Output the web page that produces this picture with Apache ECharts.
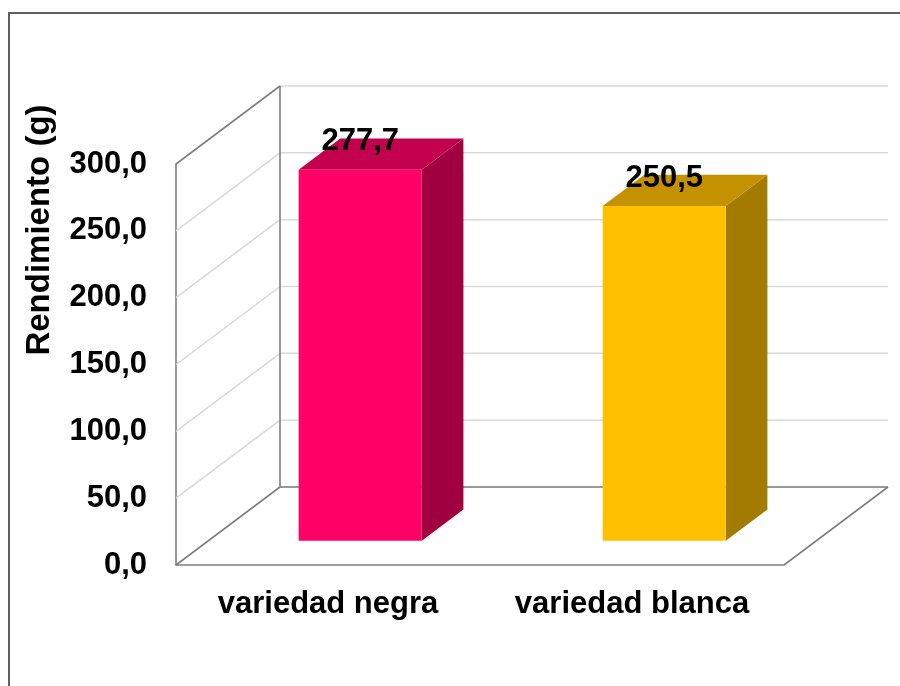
<!DOCTYPE html>
<html>
<head>
<meta charset="utf-8">
<script src="https://cdn.jsdelivr.net/npm/echarts@6/dist/echarts.min.js"></script>
<style>
  html, body { margin: 0; padding: 0; background: #fff; }
  #chart { width: 900px; height: 686px; }
</style>
</head>
<body>
<div id="chart"></div>
<script>
// Rendimiento por variedad (g)
const categories = ['variedad negra', 'variedad blanca'];
const rendimiento = [277.7, 250.5];
const yTicks = [0, 50, 100, 150, 200, 250, 300];
const yTitle = 'Rendimiento (g)';

const faceColors = ['#FF0066', '#FFC000'];
const topColors = ['#C2004E', '#C49200'];
const sideColors = ['#A0003F', '#A37B00'];

// Oblique projection of the plot box: screen offset of the full depth
const DEPTH_X = 104;
const DEPTH_Y = -78;
// Bars occupy this slice of the depth and this share of each band
const BAR_FRONT = 0.31;
const BAR_BACK = 0.71;
const BAR_WIDTH = 0.405;

const FONT = "'Liberation Sans', Arial, sans-serif";
const EDGE = { stroke: '#7f7f7f', lineWidth: 1.6, fill: null };
const GRID = { stroke: '#d9d9d9', lineWidth: 1.5, fill: null };

const fmt = v => v.toFixed(1).replace('.', ',');

function line(x1, y1, x2, y2, style) {
  return { type: 'line', shape: { x1, y1, x2, y2 }, style };
}

// Light gridlines on the side wall and the back wall
function renderGrid(params, api) {
  const cs = params.coordSys;
  const v = api.value(1);
  const y = api.coord([0, v])[1];
  const x0 = cs.x, x1 = cs.x + cs.width;
  const children = [
    line(x0 + DEPTH_X, y + DEPTH_Y, x1 + DEPTH_X, y + DEPTH_Y, GRID)
  ];
  if (v !== yTicks[0] && v !== yTicks[yTicks.length - 1]) {
    children.push(line(x0, y, x0 + DEPTH_X, y + DEPTH_Y, GRID));
  }
  return { type: 'group', children };
}

// Dark outline of the walls and the floor
function renderFrame(params, api) {
  const cs = params.coordSys;
  const x0 = cs.x, x1 = cs.x + cs.width;
  const yb = api.coord([0, yTicks[0]])[1];
  const yt = api.coord([0, yTicks[yTicks.length - 1]])[1];
  return {
    type: 'group',
    children: [
      line(x0, yt, x0 + DEPTH_X, yt + DEPTH_Y, EDGE),
      line(x0, yb, x0 + DEPTH_X, yb + DEPTH_Y, EDGE),
      line(x0 + DEPTH_X, yb + DEPTH_Y, x0 + DEPTH_X, yt + DEPTH_Y, EDGE),
      line(x0 + DEPTH_X, yb + DEPTH_Y, x1 + DEPTH_X, yb + DEPTH_Y, EDGE),
      line(x1, yb, x1 + DEPTH_X, yb + DEPTH_Y, EDGE)
    ]
  };
}

// Prism bars: front face, top face, right side and value label
function renderBar(params, api) {
  const i = api.value(0);
  const val = api.value(1);
  const base = api.coord([i, 0]);
  const top = api.coord([i, val]);
  const w = api.size([1, 0])[0] * BAR_WIDTH;
  const fx = BAR_FRONT * DEPTH_X, fy = BAR_FRONT * DEPTH_Y;
  const ddx = (BAR_BACK - BAR_FRONT) * DEPTH_X;
  const ddy = (BAR_BACK - BAR_FRONT) * DEPTH_Y;
  const l = base[0] - w / 2 + fx;
  const r = base[0] + w / 2 + fx;
  const yb = base[1] + fy;
  const yt = top[1] + fy;
  return {
    type: 'group',
    children: [
      { type: 'polygon', shape: { points: [[r, yb], [r + ddx, yb + ddy], [r + ddx, yt + ddy], [r, yt]] },
        style: { fill: sideColors[i] } },
      { type: 'polygon', shape: { points: [[l, yt], [r, yt], [r + ddx, yt + ddy], [l + ddx, yt + ddy]] },
        style: { fill: topColors[i] } },
      { type: 'rect', shape: { x: l, y: yt, width: r - l, height: yb - yt },
        style: { fill: faceColors[i] } },
      { type: 'text', x: (l + r) / 2, y: yt - 28,
        style: { text: fmt(val), fill: '#000', font: 'bold 31px ' + FONT,
                 align: 'center', verticalAlign: 'middle' } }
    ]
  };
}

const chart = echarts.init(document.getElementById('chart'), null, { renderer: 'canvas' });

chart.setOption({
  animation: false,
  backgroundColor: '#fff',
  graphic: [
    {
      type: 'rect',
      shape: { x: 9, y: 13, width: 960, height: 760 },
      style: { fill: null, stroke: '#5f5f5f', lineWidth: 2 },
      silent: true
    },
    {
      type: 'text',
      x: 40,
      y: 230,
      rotation: Math.PI / 2,
      style: { text: yTitle, fill: '#000', font: 'bold 33px ' + FONT,
               align: 'center', verticalAlign: 'middle' },
      silent: true
    }
  ],
  grid: { left: 176, right: 116, top: 164, bottom: 121, containLabel: false },
  xAxis: {
    type: 'category',
    data: categories,
    axisLine: { show: true, lineStyle: { color: '#7f7f7f', width: 1.6 } },
    axisTick: { show: false },
    splitLine: { show: false },
    axisLabel: { interval: 0, hideOverlap: false, fontFamily: FONT, fontSize: 31,
                 fontWeight: 'bold', color: '#000', margin: 24 }
  },
  yAxis: {
    type: 'value',
    min: 0,
    max: 300,
    interval: 50,
    axisLine: { show: true, lineStyle: { color: '#7f7f7f', width: 1.6 } },
    axisTick: { show: false },
    splitLine: { show: false },
    axisLabel: { fontFamily: FONT, fontSize: 31, fontWeight: 'bold', color: '#000', margin: 29,
                 padding: [6, 0, 0, 0], formatter: v => fmt(v) }
  },
  series: [
    {
      type: 'custom',
      z: 1,
      silent: true,
      renderItem: renderGrid,
      data: yTicks.map(v => [0, v])
    },
    {
      type: 'custom',
      z: 2,
      silent: true,
      renderItem: renderFrame,
      data: [[0, 0]]
    },
    {
      type: 'custom',
      z: 3,
      renderItem: renderBar,
      data: rendimiento.map((v, i) => [i, v])
    }
  ]
});
</script>
</body>
</html>
